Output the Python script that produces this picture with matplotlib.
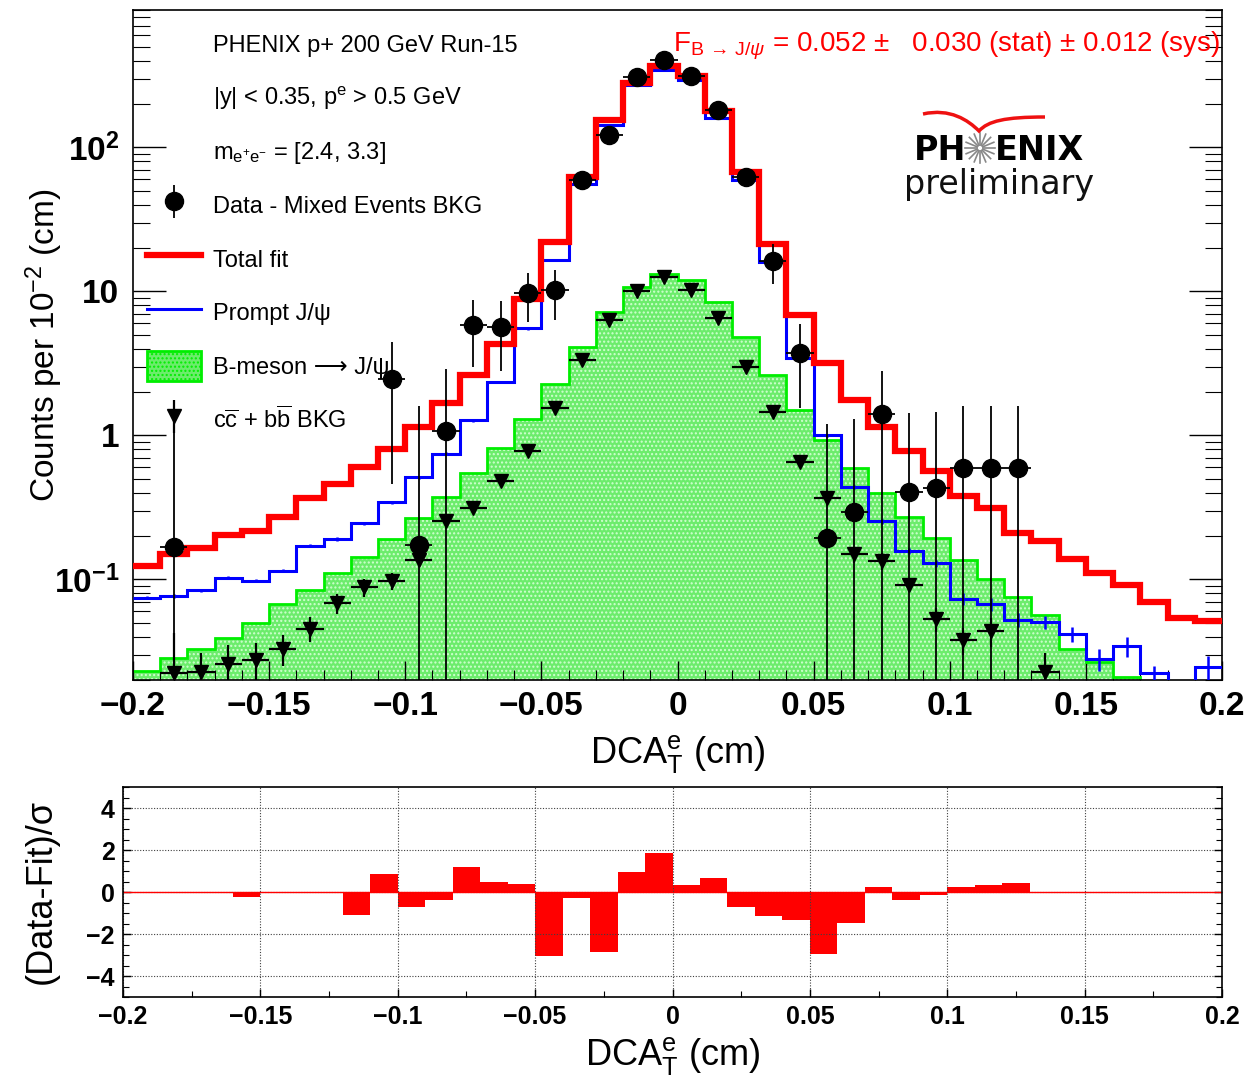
import numpy as np
import matplotlib
matplotlib.use("Agg")
import matplotlib.pyplot as plt
from matplotlib.lines import Line2D
from matplotlib.patches import Patch, PathPatch
from matplotlib.path import Path
from matplotlib.container import ErrorbarContainer
from matplotlib.legend_handler import HandlerErrorbar
from matplotlib.ticker import MultipleLocator, LogLocator, NullFormatter

plt.rcParams['font.family'] = ['Liberation Sans', 'DejaVu Sans']
plt.rcParams['mathtext.fontset'] = 'custom'
plt.rcParams['mathtext.rm'] = 'Liberation Sans'
plt.rcParams['mathtext.it'] = 'Liberation Sans:italic'
plt.rcParams['mathtext.bf'] = 'Liberation Sans:bold'
plt.rcParams['hatch.linewidth'] = 1.0

# ---- binning: 40 bins of 0.01 cm
edges = np.linspace(-0.2, 0.2, 41)

# ---- fit components (per bin)
total_fit = [0.123, 0.150, 0.166, 0.202, 0.217, 0.271, 0.370, 0.459, 0.600, 0.807,
             1.14, 1.68, 2.63, 4.30, 8.8, 21.9, 62.5, 155, 280, 367,
             312, 178, 67.7, 21.3, 6.9, 3.17, 1.76, 1.14, 0.785, 0.563,
             0.381, 0.315, 0.211, 0.184, 0.138, 0.111, 0.0914, 0.070, 0.054, 0.051]

prompt = [0.0747, 0.0767, 0.0841, 0.103, 0.0977, 0.115, 0.171, 0.191, 0.245, 0.343,
          0.512, 0.745, 1.27, 2.35, 5.54, 16.6, 56, 143, 272, 346,
          296, 159, 59, 15.9, 3.44, 1.0, 0.44, 0.254, 0.157, 0.129,
          0.0733, 0.0672, 0.0522, 0.0505, 0.042, 0.028, 0.0344, 0.0222, 0.015, 0.0246]
prompt_err = [0.002, 0.002, 0.0022, 0.0027, 0.0026, 0.003, 0.0045, 0.005, 0.0065, 0.009,
              0.013, 0.019, 0.03, 0.05, 0.11, 0.3, 0.9, 2.0, 3.5, 4.2,
              3.8, 2.2, 0.9, 0.3, 0.08, 0.03, 0.015, 0.01, 0.007, 0.007,
              0.0073, 0.0072, 0.0058, 0.0056, 0.005, 0.0048, 0.0053, 0.003, 0.003, 0.0047]

b_meson = [0.0230, 0.0285, 0.0326, 0.0393, 0.050, 0.0671, 0.0841, 0.110, 0.142, 0.191,
           0.267, 0.371, 0.550, 0.821, 1.29, 2.27, 4.08, 7.23, 10.8, 13.2,
           12.0, 8.4, 4.83, 2.63, 1.51, 0.93, 0.59, 0.397, 0.271, 0.193,
           0.137, 0.100, 0.076, 0.0565, 0.033, 0.0267, 0.021, 0.019, 0.018, 0.019]

# ---- data - mixed events BKG
data_x = [-0.185, -0.105, -0.095, -0.085, -0.075, -0.065, -0.055, -0.045, -0.035, -0.025,
          -0.015, -0.005, 0.005, 0.015, 0.025, 0.035, 0.045, 0.055, 0.065, 0.075,
          0.085, 0.095, 0.105, 0.115, 0.125]
data_y = [0.168, 2.46, 0.173, 1.08, 5.88, 5.7, 9.8, 10.2, 59.7, 121,
          309, 406, 313, 181, 62.7, 16.2, 3.74, 0.194, 0.294, 1.4,
          0.406, 0.43, 0.597, 0.597, 0.597]
data_err = [1.0, 2.0, 1.43, 1.8, 2.9, 2.9, 3.7, 3.9, 8, 11,
            18, 20, 18, 14, 8, 5, 2.2, 1.0, 1.0, 1.42,
            1.03, 1.03, 1.0, 1.0, 1.0]

# ---- cc + bb BKG
bkg_x = [-0.185, -0.175, -0.165, -0.155, -0.145, -0.135, -0.125, -0.115, -0.105, -0.095,
         -0.085, -0.075, -0.065, -0.055, -0.045, -0.035, -0.025, -0.015, -0.005, 0.005,
         0.015, 0.025, 0.035, 0.045, 0.055, 0.065, 0.075, 0.085, 0.095, 0.105,
         0.115, 0.135]
bkg_y = [0.0222, 0.0228, 0.026, 0.0274, 0.033, 0.0455, 0.0685, 0.088, 0.097, 0.137,
         0.254, 0.315, 0.484, 0.785, 1.54, 3.35, 6.36, 10.05, 12.5, 10.3,
         6.54, 3.0, 1.46, 0.658, 0.37, 0.149, 0.134, 0.0914, 0.053, 0.0377,
         0.044, 0.0228]
bkg_err = [0.02, 0.008, 0.009, 0.009, 0.008, 0.009, 0.011, 0.013, 0.013, 0.016,
           0.02, 0.025, 0.03, 0.04, 0.06, 0.1, 0.15, 0.2, 0.22, 0.2,
           0.15, 0.1, 0.06, 0.04, 0.03, 0.02, 0.018, 0.01, 0.01, 0.008,
           0.01, 0.008]

# ---- residuals (Data-Fit)/sigma
residual = [0, 0, 0, 0, -0.22, 0, 0, 0, -1.09, 0.85,
            -0.71, -0.38, 1.18, 0.47, 0.38, -3.04, -0.27, -2.88, 0.96, 1.84,
            0.31, 0.69, -0.71, -1.13, -1.35, -2.93, -1.48, 0.22, -0.39, -0.16,
            0.22, 0.31, 0.42, 0, 0, 0, 0, 0, 0, 0]

x_ticks = [-0.2, -0.15, -0.1, -0.05, 0, 0.05, 0.1, 0.15, 0.2]
x_ticklabels = ['\u22120.2', '\u22120.15', '\u22120.1', '\u22120.05', '0', '0.05', '0.1', '0.15', '0.2']

W, H = 1250, 1081
fig = plt.figure(figsize=(W / 100, H / 100), dpi=100)
ax = fig.add_axes([133 / W, 1 - 680 / H, (1222 - 133) / W, 670 / H])
ax2 = fig.add_axes([123 / W, 1 - 997 / H, (1222 - 123) / W, 210 / H])

green_fill = '#6cec6c'
ax.stairs(b_meson, edges, baseline=1e-4, fill=True, facecolor=green_fill,
          edgecolor='#d0ffd0', hatch='....', linewidth=0, zorder=1)
ax.stairs(b_meson, edges, baseline=None, color='#00ee00', lw=2.0, zorder=2)

ax.stairs(prompt, edges, baseline=None, color='#0000ff', lw=2.2, zorder=3)
centers = 0.5 * (edges[:-1] + edges[1:])
ax.errorbar(centers, prompt, yerr=prompt_err, fmt='none', ecolor='#0000ff', elinewidth=1.8, zorder=3)
ax.stairs(total_fit, edges, baseline=None, color='#ff0000', lw=4.5, zorder=4)

bkg_eb = ax.errorbar(bkg_x, bkg_y, yerr=bkg_err, xerr=0.005, fmt='v', color='black', ms=10,
                     elinewidth=1.6, capsize=0, zorder=5)
data_eb = ax.errorbar(data_x, data_y, yerr=data_err, xerr=0.005, fmt='o', color='black', ms=13,
                      elinewidth=1.3, capsize=0, zorder=6)

ax.set_yscale('log')
ax.set_xlim(-0.2, 0.2)
ax.set_ylim(0.02, 900)
ax.set_xticks(x_ticks)
ax.set_xticklabels(x_ticklabels, fontsize=24, fontweight='bold')
ax.xaxis.set_minor_locator(MultipleLocator(0.01))
ax.set_yticks([0.1, 1, 10, 100])
ax.set_yticklabels([r'$\mathbf{10^{-1}}$', '1', '10', r'$\mathbf{10^{2}}$'], fontsize=24, fontweight='bold')
ax.yaxis.set_minor_locator(LogLocator(base=10, subs=np.arange(2, 10)))
ax.yaxis.set_minor_formatter(NullFormatter())
ax.tick_params(axis='x', which='major', direction='in', length=14, width=1.0, top=False, pad=8)
ax.tick_params(axis='x', which='minor', direction='in', length=7, width=0.8, top=False)
ax.tick_params(axis='y', which='major', direction='in', length=24, width=1.0, right=True, pad=10)
ax.tick_params(axis='y', which='minor', direction='in', length=12, width=0.8, right=True)
for s in ax.spines.values():
    s.set_linewidth(1.2)

ax.set_xlabel(r'DCA$_{\mathrm{T}}^{\mathrm{e}}$ (cm)', fontsize=26, labelpad=8)
ax.set_ylabel(r'Counts per 10$^{\mathrm{-2}}$ (cm)', fontsize=24, labelpad=-8)

# legend
blank = Line2D([], [], linestyle='none')
fit_h = Line2D([], [], color='#ff0000', lw=4.5)
prompt_h = Line2D([], [], color='#0000ff', lw=2.2)
b_h = Patch(facecolor=green_fill, edgecolor='#00ee00', hatch='....', lw=2)
labels = ['PHENIX p+ 200 GeV Run-15',
          r'|y| < 0.35, p$^{\mathrm{e}}$ > 0.5 GeV',
          r'm$_{\mathrm{e^{+}e^{-}}}$ = [2.4, 3.3]',
          'Data - Mixed Events BKG',
          'Total fit',
          'Prompt J/\u03c8',
          'B-meson \u27f6 J/\u03c8',
          r'c$\overline{\mathrm{c}}$ + b$\overline{\mathrm{b}}$ BKG']
ax.legend([blank, blank, blank, data_eb, fit_h, prompt_h, b_h, bkg_eb], labels,
          loc='upper left', bbox_to_anchor=(0.0, 0.993), frameon=False, fontsize=17,
          handlelength=2.3, handleheight=1.6, labelspacing=0.99, handletextpad=0.47,
          borderaxespad=0.3, borderpad=0.3,
          handler_map={ErrorbarContainer: HandlerErrorbar(xerr_size=0, yerr_size=0.7)})

ax.text(0.998, 0.946,
        r'F$_{\mathrm{B}\,\rightarrow\,\mathrm{J}/\psi}$ = 0.052 $\pm$   0.030 (stat) $\pm$ 0.012 (sys)',
        transform=ax.transAxes, ha='right', va='center', color='#ff0000', fontsize=20)

# PHENIX preliminary logo
def axf(px, py):
    return ((px - 133) / 1089, (680 - py) / 670)

x0, y0 = axf(966, 160)
ax.text(x0, y0, 'PH', transform=ax.transAxes, ha='right', va='baseline',
        fontsize=24, fontweight='bold', family='DejaVu Sans', color='black')
x0, y0 = axf(995, 160)
ax.text(x0, y0, 'ENIX', transform=ax.transAxes, ha='left', va='baseline',
        fontsize=24, fontweight='bold', family='DejaVu Sans', color='black')
x0, y0 = axf(999, 194)
ax.text(x0, y0, 'preliminary', transform=ax.transAxes, ha='center', va='baseline',
        fontsize=24, family='DejaVu Sans', color='#111111')
for a in np.linspace(0, 2 * np.pi, 16, endpoint=False):
    xa, ya = axf(980 + 3 * np.cos(a), 148 - 3 * np.sin(a))
    xb, yb = axf(980 + 15 * np.cos(a), 148 - 15 * np.sin(a))
    ax.plot([xa, xb], [ya, yb], transform=ax.transAxes, color='#888888', lw=1.2, zorder=7)
sw = [axf(923, 114), axf(950, 108), axf(968, 120), axf(979, 131),
      axf(988, 121), axf(1005, 117), axf(1045, 117)]
swoosh = Path(sw, [Path.MOVETO, Path.CURVE4, Path.CURVE4, Path.CURVE4,
                   Path.CURVE4, Path.CURVE4, Path.CURVE4])
ax.add_patch(PathPatch(swoosh, transform=ax.transAxes, facecolor='none',
                       edgecolor='#ee1111', lw=2.5, zorder=7))

# ---- residual panel
ax2.stairs(residual, edges, baseline=0, fill=True, color='#ff0000', lw=0)
ax2.axhline(0, color='#ff0000', lw=1.0)
ax2.set_xlim(-0.2, 0.2)
ax2.set_ylim(-5, 5)
ax2.set_xticks(x_ticks)
ax2.set_xticklabels(x_ticklabels, fontsize=18, fontweight='bold')
ax2.xaxis.set_minor_locator(MultipleLocator(0.025))
ax2.set_yticks([-4, -2, 0, 2, 4])
ax2.set_yticklabels(['\u22124', '\u22122', '0', '2', '4'], fontsize=18, fontweight='bold')
ax2.yaxis.set_minor_locator(MultipleLocator(0.5))
ax2.tick_params(which='major', direction='in', length=6, width=1.0, right=True, pad=6)
ax2.tick_params(which='minor', direction='in', length=4, width=0.8, right=True)
ax2.grid(True, which='major', linestyle=(0, (1, 1.5)), color='0.25', lw=0.8)
for s in ax2.spines.values():
    s.set_linewidth(1.2)
ax2.set_xlabel(r'DCA$_{\mathrm{T}}^{\mathrm{e}}$ (cm)', fontsize=26, labelpad=4)
ax2.set_ylabel('(Data-Fit)/\u03c3', fontsize=26, labelpad=20)

fig.savefig('out.png', dpi=100)
